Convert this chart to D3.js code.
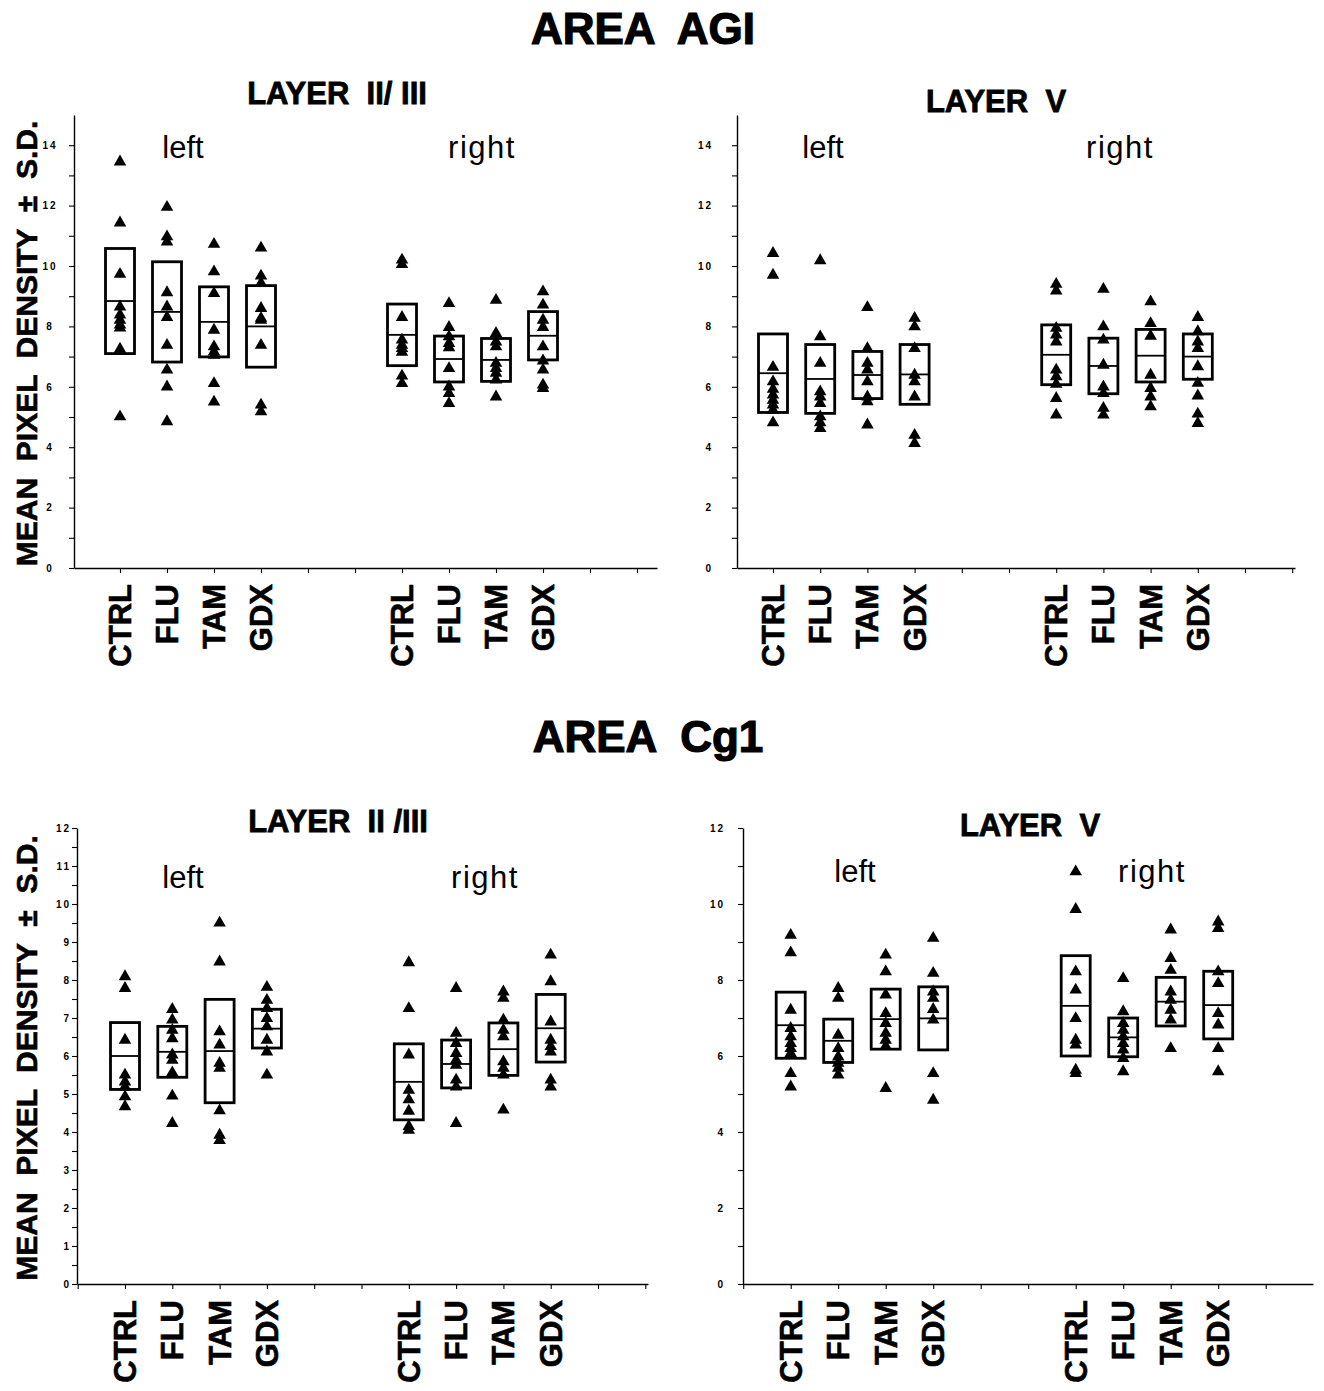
<!DOCTYPE html>
<html>
<head>
<meta charset="utf-8">
<script src="https://cdn.jsdelivr.net/npm/d3@7"></script>
<style>
body { margin: 0; background: #fff; }
svg { display: block; font-family: "Liberation Sans", Arial, sans-serif; }
</style>
</head>
<body>
<svg id="fig" width="1324" height="1391"></svg>
<script>
// groups on the x axis, left hemisphere then right hemisphere
var groups = ["CTRL", "FLU", "TAM", "GDX"];
var slots = [0, 1, 2, 3, 6, 7, 8, 9];

// AREA AGI, layer II/III  (left CTRL,FLU,TAM,GDX, right CTRL,FLU,TAM,GDX)
var agiL23Pts = [
  [13.45, 11.43, 9.73, 8.65, 8.38, 8.21, 8.05, 7.95, 7.25, 5.01],
  [11.95, 10.97, 10.8, 9.12, 8.65, 8.3, 7.38, 6.56, 6.0, 4.85],
  [10.72, 9.81, 9.09, 7.88, 7.33, 7.16, 7.05, 6.11, 5.5],
  [10.6, 9.67, 9.43, 8.6, 8.27, 8.21, 7.38, 5.4, 5.18],
  [10.2, 10.05, 8.3, 7.55, 7.38, 7.27, 7.15, 6.36, 6.11],
  [8.76, 7.97, 7.66, 7.44, 7.3, 6.61, 6.0, 5.78, 5.45],
  [8.87, 7.77, 7.49, 7.33, 6.78, 6.61, 6.45, 6.23, 5.67],
  [9.15, 8.71, 8.21, 7.97, 7.33, 6.86, 6.56, 6.06, 5.95]
];
var agiL23Mean = [8.84, 8.48, 8.15, 8.0, 7.72, 6.92, 6.89, 7.69];
var agiL23SD = [1.74, 1.66, 1.16, 1.35, 1.02, 0.76, 0.71, 0.80];

// AREA AGI, layer V
var agiL5Pts = [
  [10.42, 9.70, 6.65, 6.17, 5.92, 5.73, 5.56, 5.40, 5.23, 4.81],
  [10.18, 7.66, 6.78, 5.84, 5.67, 5.45, 5.01, 4.81, 4.62],
  [8.63, 7.27, 6.78, 6.56, 6.17, 5.67, 5.51, 4.74],
  [8.27, 7.99, 7.27, 6.39, 6.17, 5.67, 4.40, 4.13],
  [9.40, 9.18, 7.94, 7.72, 7.49, 6.56, 6.34, 6.09, 5.62, 5.07],
  [9.23, 7.99, 7.55, 6.72, 6.00, 5.78, 5.29, 5.07],
  [8.82, 8.10, 7.68, 6.39, 5.95, 5.67, 5.34],
  [8.30, 7.83, 7.49, 7.27, 6.67, 6.12, 5.70, 5.10, 4.79]
];
var agiL5Mean = [6.45, 6.26, 6.39, 6.41, 7.06, 6.69, 7.03, 7.0];
var agiL5SD = [1.30, 1.14, 0.78, 0.99, 0.99, 0.92, 0.87, 0.75];

// AREA Cg1, layer II/III
var cgL23Pts = [
  [8.09, 7.78, 6.42, 5.50, 5.32, 5.19, 4.93, 4.67],
  [7.23, 6.95, 6.68, 6.46, 6.03, 5.89, 5.56, 4.95, 4.23],
  [9.5, 8.48, 6.64, 6.29, 5.81, 5.68, 4.56, 3.92, 3.78],
  [7.81, 7.47, 7.25, 6.99, 6.77, 6.42, 6.11, 5.5],
  [8.46, 7.25, 6.03, 5.1, 4.85, 4.55, 4.15, 4.05],
  [7.78, 6.6, 6.33, 6.07, 5.89, 5.76, 5.37, 5.19, 4.23],
  [7.69, 7.52, 6.95, 6.68, 6.51, 5.85, 5.68, 5.5, 4.58],
  [8.66, 7.96, 6.90, 6.42, 6.25, 6.11, 5.37, 5.19]
];
var cgL23Mean = [6.0, 6.11, 6.13, 6.72, 5.32, 5.79, 6.18, 6.73];
var cgL23SD = [0.88, 0.67, 1.36, 0.51, 1.0, 0.63, 0.69, 0.89];

// AREA Cg1, layer V
var cgL5Pts = [
  [9.18, 8.72, 7.21, 6.73, 6.51, 6.33, 6.20, 6.07, 5.54, 5.19],
  [7.78, 7.52, 6.55, 6.20, 5.98, 5.81, 5.68, 5.5],
  [8.66, 8.22, 7.61, 7.12, 6.86, 6.60, 6.42, 6.26, 5.15],
  [9.10, 8.18, 7.69, 7.52, 7.23, 6.95, 5.54, 4.84],
  [10.85, 9.86, 8.22, 7.74, 6.99, 6.42, 6.29, 5.63, 5.54],
  [8.04, 7.17, 6.86, 6.68, 6.51, 6.33, 6.16, 5.94, 5.59],
  [9.32, 8.57, 8.26, 7.69, 7.47, 7.21, 6.95, 6.20],
  [9.53, 9.36, 8.22, 7.91, 7.12, 6.82, 6.20, 5.59]
];
var cgL5Mean = [6.81, 6.40, 6.97, 6.99, 7.32, 6.49, 7.43, 7.34];
var cgL5SD = [0.87, 0.57, 0.79, 0.83, 1.32, 0.51, 0.64, 0.89];

var ticksTop = [0, 2, 4, 6, 8, 10, 12, 14];
var ticksCgL23 = [0, 1, 2, 3, 4, 5, 6, 7, 8, 9, 10, 11, 12];
var ticksCgL5 = [0, 2, 4, 6, 8, 10, 12];

var svg = d3.select("#fig");

// headings
svg.append("text").attr("x", 643).attr("y", 44).attr("text-anchor", "middle")
  .attr("font-size", 44).attr("font-weight", "bold").attr("xml:space", "preserve")
  .attr("stroke", "#000").attr("stroke-width", 1.2)
  .text("AREA  AGI");
svg.append("text").attr("x", 648).attr("y", 752).attr("text-anchor", "middle")
  .attr("font-size", 44).attr("font-weight", "bold").attr("xml:space", "preserve")
  .attr("stroke", "#000").attr("stroke-width", 1.2)
  .text("AREA  Cg1");

var panels = [
  { pts: agiL23Pts, mean: agiL23Mean, sd: agiL23SD, yMax: 15, ticks: ticksTop, minor: 1,
    ax: 74, axEnd: 657, k0: 120, step: 47, y0: 568, yTop: 115,
    title: "LAYER  II/ III", tx: 337, ty: 104, lab: [183, 158], rab: [482, 158],
    tickLabX: 50, tickAnchor: "middle", yLabel: true },
  { pts: agiL5Pts, mean: agiL5Mean, sd: agiL5SD, yMax: 15, ticks: ticksTop, minor: 1,
    ax: 737, axEnd: 1295, k0: 773, step: 47.2, y0: 568, yTop: 115,
    title: "LAYER  V", tx: 996, ty: 112, lab: [823, 158], rab: [1120, 158],
    tickLabX: 713, tickAnchor: "end", yLabel: false },
  { pts: cgL23Pts, mean: cgL23Mean, sd: cgL23SD, yMax: 12, ticks: ticksCgL23, minor: 0.5,
    ax: 77, axEnd: 648, k0: 125, step: 47.3, y0: 1284, yTop: 828,
    title: "LAYER  II /III", tx: 338, ty: 832, lab: [183, 888], rab: [485, 888],
    tickLabX: 71, tickAnchor: "end", yLabel: true },
  { pts: cgL5Pts, mean: cgL5Mean, sd: cgL5SD, yMax: 12, ticks: ticksCgL5, minor: 1,
    ax: 743, axEnd: 1313, k0: 790.7, step: 47.5, y0: 1284, yTop: 828,
    title: "LAYER  V", tx: 1030, ty: 836, lab: [855, 882], rab: [1152, 882],
    tickLabX: 725, tickAnchor: "end", yLabel: false }
];

var tri = d3.symbol().type(d3.symbolTriangle).size(68);

panels.forEach(function(p) {
  var g = svg.append("g");
  var y = d3.scaleLinear().domain([0, p.yMax]).range([p.y0, p.yTop]);
  var dLo = (p.ax - p.k0) / p.step, dHi = (p.axEnd - p.k0) / p.step;
  var x = d3.scaleLinear().domain([dLo, dHi]).range([p.ax, p.axEnd]);

  // y axis with minor ticks
  var yTickVals = d3.range(0, p.yMax + 0.001, p.minor).filter(function(v) { return v <= p.yMax - 0.2 || p.yMax == 12; });
  var yAxis = g.append("g").attr("transform", "translate(" + p.ax + ",0)")
    .call(d3.axisLeft(y).tickValues(yTickVals).tickSize(5).tickSizeOuter(0)
      .tickFormat(function(v) { return p.ticks.indexOf(v) >= 0 ? String(v) : ""; }));
  yAxis.select(".domain").attr("stroke-width", 1.4);
  yAxis.selectAll(".tick line").attr("stroke-width", 1.1);
  yAxis.selectAll(".tick text")
    .attr("x", p.tickLabX - p.ax).attr("text-anchor", p.tickAnchor)
    .attr("font-size", 10).attr("font-weight", "bold").attr("letter-spacing", 2)
    .attr("font-family", "Liberation Sans, Arial, sans-serif");

  // x axis
  var xTickVals = d3.range(Math.ceil(dLo - 0.001), Math.floor(dHi) + 1);
  var xAxis = g.append("g").attr("transform", "translate(0," + p.y0 + ")")
    .call(d3.axisBottom(x).tickValues(xTickVals).tickSize(5).tickSizeOuter(0).tickFormat(""));
  xAxis.select(".domain").attr("stroke-width", 1.4);
  xAxis.selectAll(".tick line").attr("stroke-width", 1.1);

  // category labels
  slots.forEach(function(k, i) {
    var cx = x(k) + 11, cy = p.y0 + 16;
    g.append("text").attr("transform", "translate(" + cx + "," + cy + ") rotate(-90)")
      .attr("text-anchor", "end").attr("font-size", 31).attr("font-weight", "bold")
      .attr("stroke", "#000").attr("stroke-width", 0.6)
      .text(groups[i % 4]);
  });

  // mean +- SD boxes
  slots.forEach(function(k, i) {
    var hi = y(p.mean[i] + p.sd[i]), lo = y(p.mean[i] - p.sd[i]);
    g.append("rect").attr("x", x(k) - 14.5).attr("y", hi).attr("width", 29).attr("height", lo - hi)
      .attr("fill", "none").attr("stroke", "#000").attr("stroke-width", 2.8);
    g.append("line").attr("x1", x(k) - 14.5).attr("x2", x(k) + 14.5)
      .attr("y1", y(p.mean[i])).attr("y2", y(p.mean[i]))
      .attr("stroke", "#000").attr("stroke-width", 1.8);
  });

  // individual values
  slots.forEach(function(k, i) {
    g.selectAll(null).data(p.pts[i]).enter().append("path")
      .attr("d", tri)
      .attr("transform", function(v) { return "translate(" + x(k) + "," + y(v) + ")"; })
      .attr("fill", "#000");
  });

  // titles
  g.append("text").attr("x", p.tx).attr("y", p.ty).attr("text-anchor", "middle")
    .attr("font-size", 31).attr("font-weight", "bold").attr("xml:space", "preserve")
    .attr("stroke", "#000").attr("stroke-width", 0.8)
    .text(p.title);
  g.append("text").attr("x", p.lab[0]).attr("y", p.lab[1]).attr("text-anchor", "middle")
    .attr("font-size", 31).text("left");
  g.append("text").attr("x", p.rab[0]).attr("y", p.rab[1]).attr("text-anchor", "middle")
    .attr("font-size", 31).attr("letter-spacing", 1.5).text("right");

  if (p.yLabel) {
    var midY = (p.y0 + p.yTop) / 2 + 2;
    g.append("text").attr("transform", "translate(37," + midY + ") rotate(-90)")
      .attr("text-anchor", "middle").attr("font-size", 30).attr("font-weight", "bold")
      .attr("stroke", "#000").attr("stroke-width", 0.6)
      .attr("xml:space", "preserve")
      .text("MEAN  PIXEL  DENSITY  \u00b1  S.D.");
  }
});
</script>
</body>
</html>
